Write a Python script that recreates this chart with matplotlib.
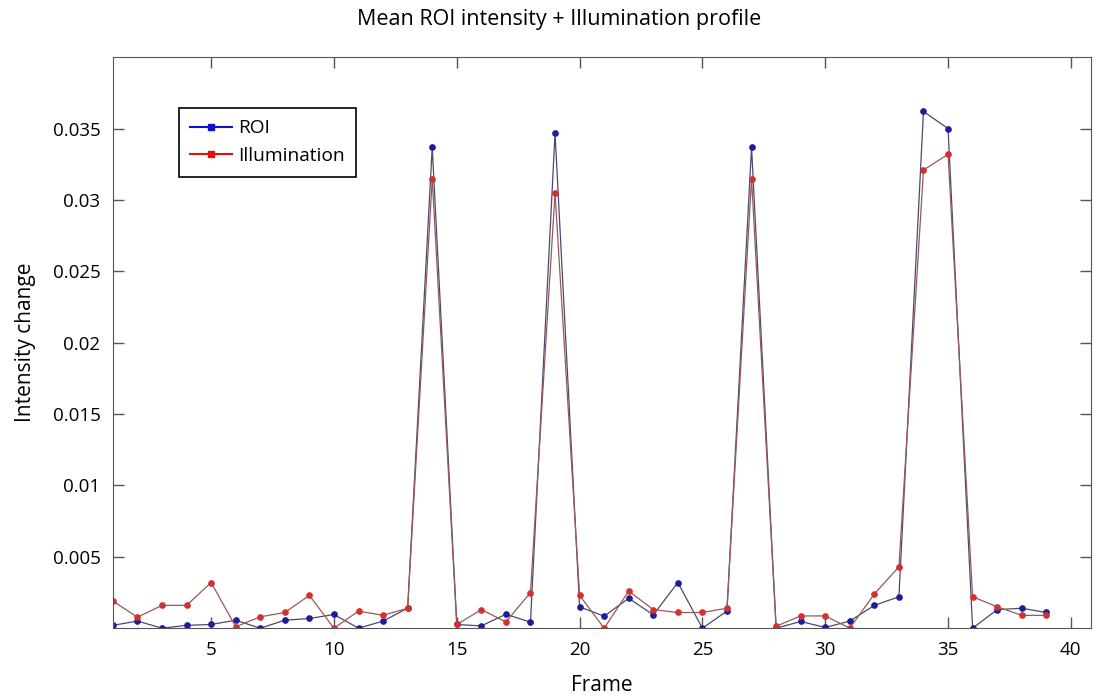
import numpy as np
import matplotlib
matplotlib.use("Agg")
import matplotlib.pyplot as plt
from matplotlib.lines import Line2D

plt.rcParams['font.family'] = ['Open Sans', 'DejaVu Sans']

# Data
frames = list(range(1, 40))
roi = [0.0002, 0.0005, 0.0000, 0.0002, 0.00026, 0.00056, 0.0000, 0.00056, 0.00068, 0.00096,
       0.0000, 0.0005, 0.0014, 0.0337, 0.00026, 0.00016, 0.00098, 0.00042, 0.0347, 0.0015,
       0.00084, 0.0021, 0.00093, 0.0032, 0.0000, 0.0012, 0.0337, 0.0000, 0.00047, 0.00005,
       0.0005, 0.0016, 0.0022, 0.0362, 0.0350, 0.0000, 0.0013, 0.0014, 0.0011]
illum = [0.0019, 0.00077, 0.0016, 0.0016, 0.0032, 0.0001, 0.0008, 0.0011, 0.0023, 0.0000,
         0.0012, 0.0009, 0.0014, 0.0315, 0.00026, 0.0013, 0.00044, 0.0025, 0.0305, 0.0023,
         0.0000, 0.0026, 0.0013, 0.0011, 0.0011, 0.0014, 0.0315, 0.00014, 0.00086, 0.00086,
         0.0000, 0.0024, 0.0043, 0.0321, 0.0332, 0.0022, 0.0015, 0.0009, 0.0009]

xticks = [5, 10, 15, 20, 25, 30, 35, 40]
yticks = [0.005, 0.01, 0.015, 0.02, 0.025, 0.03, 0.035]
ytick_labels = ["0.005", "0.01", "0.015", "0.02", "0.025", "0.03", "0.035"]

fig = plt.figure(figsize=(10.96, 6.98), dpi=100)
ax = fig.add_axes([0.103, 0.1, 0.892, 0.818])

ax.plot(frames, roi, color='#4a4a70', lw=0.9, marker='o', ms=3.8,
        mfc='#1c1c9c', mec='#1c1c9c')
ax.plot(frames, illum, color='#9a5858', lw=0.9, marker='o', ms=3.8,
        mfc='#d43030', mec='#d43030')

ax.set_xlim(1, 40.8)
ax.set_ylim(0, 0.04)
ax.set_xticks(xticks)
ax.set_yticks(yticks)
ax.set_yticklabels(ytick_labels)
ax.tick_params(direction='in', length=8, width=1, color='#555555',
               labelsize=13.5, top=True, right=True, pad=9)
for s in ax.spines.values():
    s.set_color('#555555')

ax.set_xlabel("Frame", fontsize=15, labelpad=12)
ax.set_ylabel("Intensity change", fontsize=15, labelpad=12)
fig.suptitle("Mean ROI intensity + Illumination profile", fontsize=15.5, x=0.51, y=0.987)

handles = [Line2D([], [], color='#1010d0', lw=1.5, marker='s', ms=5),
           Line2D([], [], color='#e01010', lw=1.5, marker='s', ms=5)]
leg = ax.legend(handles, ["ROI", "Illumination"], loc='upper left',
                bbox_to_anchor=(0.0575, 0.928), fontsize=13.8, fancybox=False,
                edgecolor='black', framealpha=1, handlelength=2.2,
                handletextpad=0.3, borderpad=0.6, labelspacing=0.5)
leg.get_frame().set_linewidth(1.2)

fig.savefig("out.png", dpi=100)
